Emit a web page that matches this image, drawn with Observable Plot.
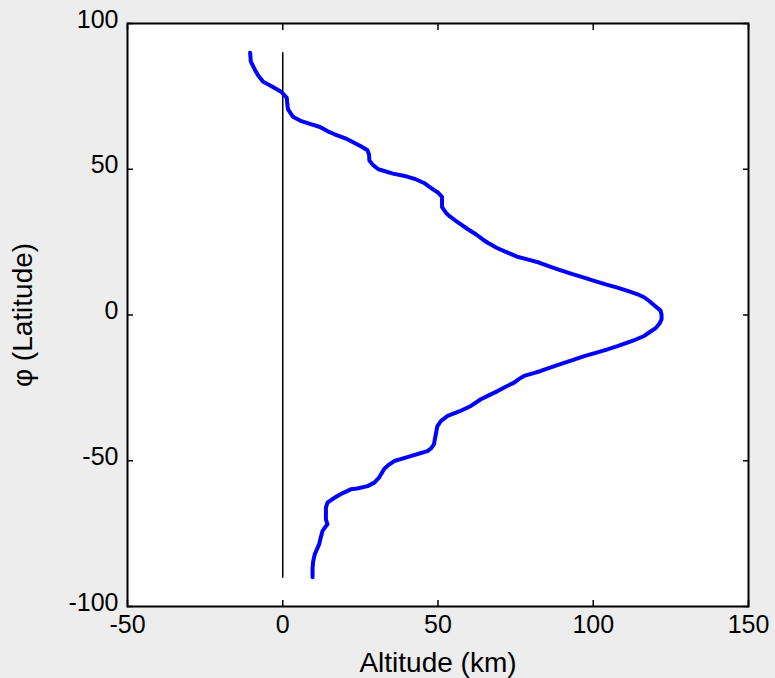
<!DOCTYPE html>
<html>
<head>
<meta charset="utf-8">
<script src="https://cdn.jsdelivr.net/npm/d3@7"></script>
<script src="https://cdn.jsdelivr.net/npm/@observablehq/plot@0.6"></script>
<style>
  html, body { margin: 0; padding: 0; background: #ededed; }
  g[aria-label="x-axis label"], g[aria-label="y-axis label"] { font-size: 28px; }
</style>
</head>
<body>
<div id="chart"></div>
<script>
// Latitude (degrees) and altitude (km) of the profile
const latitude = [
  90, 87, 84, 82, 80, 78.5, 76.5, 74.5, 72, 70.5, 68, 66.5, 65.5, 64.5, 63, 62, 60.3, 58, 56.5, 55,
  53, 51.5, 50, 48.5, 47.5, 46.5, 45.3, 44.3, 43, 42, 40.5, 38.5, 37, 35, 34, 32.5, 31, 29.5, 27.7, 26,
  24.8, 23, 21.4, 20, 19.1, 18, 16.5, 15.3, 14.2, 13, 11.7, 10.5, 9.4, 8.2, 7.1, 6, 4.8, 3, 1.5, 0,
  -1.5, -3, -4.4, -6, -7.2, -8.5, -9.5, -10.7, -11.8, -13, -14.1, -15.3, -16.4, -17.8, -19.2, -20.1, -20.9, -22, -23.2, -24.6,
  -26.1, -27.5, -28.9, -31.2, -33, -34.6, -36.3, -38.1, -40.9, -42.5, -44.4, -45.7, -46.7, -47.5, -48.4, -49.3, -50.1, -51.5, -52.9, -55.8,
  -57.5, -58.7, -59.5, -59.8, -61, -62.1, -63.3, -64.4, -66.1, -70.1, -71.8, -73, -74.1, -76.5, -78.7, -82.1, -84.5, -86.7, -90
];
const altitude = [
  -10.5, -10.3, -8.9, -7.8, -6.3, -3.6, -0.4, 1.3, 1.5, 1.7, 3.3, 6, 9, 12, 14.5, 16.7, 20.8, 25, 27.3, 27.8,
  27.9, 29, 30.8, 35.5, 40, 43, 45.5, 46.8, 48.5, 50, 51.3, 51.3, 51.3, 52.6, 53.6, 55.5, 57.5, 59.5, 62.2, 64.3,
  66, 69, 72.4, 75.5, 78.8, 82.5, 86.3, 89.6, 92.8, 96.5, 100.3, 104, 107.8, 111.3, 114.3, 116.5, 118, 120, 121.7, 122,
  122, 121.3, 120.2, 118, 116.4, 113.5, 111, 107.8, 104.6, 100.8, 97.1, 93.8, 90.6, 86.8, 83.1, 80.3, 77.7, 76, 74.5, 71.8,
  69.2, 66.5, 63.8, 60.6, 57, 53.1, 51, 49.8, 49.3, 49, 48.7, 47.8, 46.6, 44, 41.2, 38.5, 35.9, 34, 32.6, 31,
  29.5, 27.3, 24, 21.9, 19.5, 17.6, 15.8, 14.4, 13.9, 13.9, 14.4, 13.5, 12.8, 12.2, 11.7, 10.3, 9.8, 9.6, 9.6
];

// Reference line at zero altitude
const refLatitude = [-90, 90];
const refAltitude = [0, 0];

// Axis ticks
const xTicks = [-50, 0, 50, 100, 150];
const yTicks = [-100, -50, 0, 50, 100];
const xDomain = [-50, 150];
const yDomain = [-100, 100];

const profile = latitude.map((lat, i) => ({lat, alt: altitude[i]}));
const refLine = refLatitude.map((lat, i) => ({lat, alt: refAltitude[i]}));

const fmt = d => String(d);
const blank = () => "";

const chart = Plot.plot({
  width: 775,
  height: 678,
  marginLeft: 127,
  marginRight: 27,
  marginTop: 23,
  marginBottom: 72,
  style: {
    background: "#ededed",
    fontFamily: "'Liberation Sans', Arial, Helvetica, sans-serif",
    fontSize: "25px",
    color: "black"
  },
  x: {domain: xDomain},
  y: {domain: yDomain},
  marks: [
    Plot.frame({fill: "white", stroke: null}),
    Plot.line(refLine, {x: "alt", y: "lat", stroke: "black", strokeWidth: 1.5}),
    Plot.line(profile, {x: "alt", y: "lat", stroke: "#0000ff", strokeWidth: 4, strokeLinejoin: "round", strokeLinecap: "round"}),
    Plot.frame({stroke: "black", strokeWidth: 2}),
    // bottom axis: inward ticks, labels, title
    Plot.axisX(xTicks, {anchor: "bottom", tickSize: -6, tickFormat: blank, strokeWidth: 1.5, label: null}),
    Plot.axisX(xTicks, {anchor: "bottom", tickSize: 0, tickPadding: 9, tickFormat: fmt,
      label: "Altitude (km)", labelAnchor: "center", labelArrow: "none", labelOffset: 65}),
    // top axis: inward ticks only
    Plot.axisX(xTicks, {anchor: "top", tickSize: -6, tickFormat: blank, strokeWidth: 1.5, label: null}),
    // left axis
    Plot.axisY(yTicks, {anchor: "left", tickSize: -6, tickFormat: blank, strokeWidth: 1.5, label: null}),
    Plot.axisY(yTicks, {anchor: "left", tickSize: 0, tickPadding: 9, dy: -4, tickFormat: fmt,
      label: "φ (Latitude)", labelAnchor: "center", labelArrow: "none", labelOffset: 115}),
    // right axis: inward ticks only
    Plot.axisY(yTicks, {anchor: "right", tickSize: -6, tickFormat: blank, strokeWidth: 1.5, label: null})
  ]
});

document.getElementById("chart").appendChild(chart);
</script>
</body>
</html>
